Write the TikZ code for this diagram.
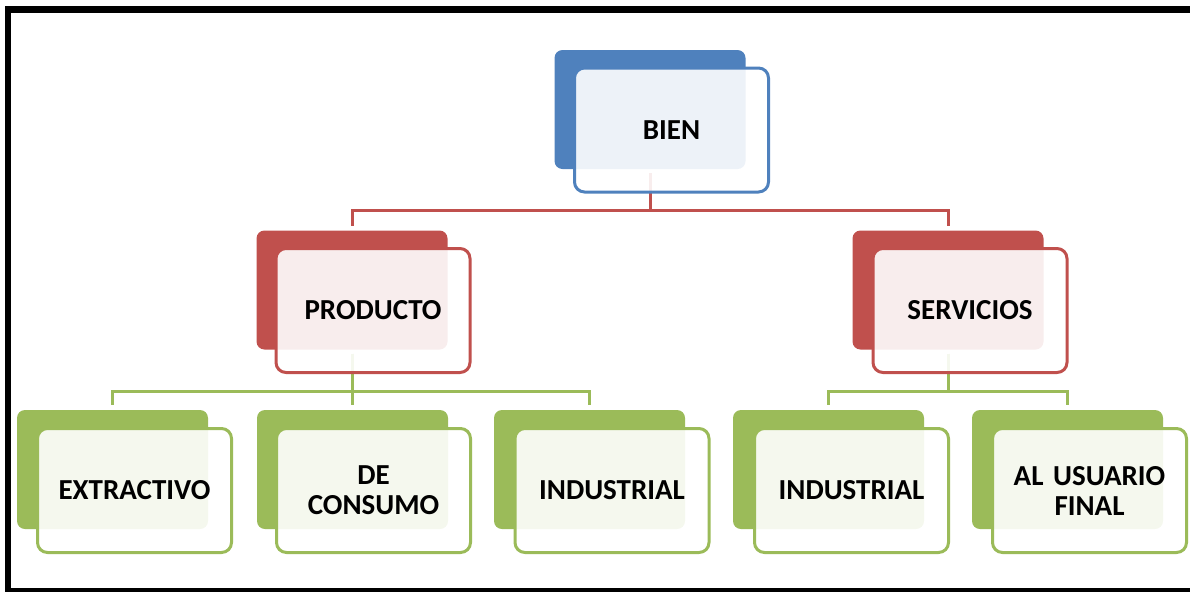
\documentclass[tikz,border=0pt]{standalone}
\usepackage{fontspec}
\setmainfont{Carlito}
\definecolor{bblue}{HTML}{4F81BD}
\definecolor{bred}{HTML}{C0504D}
\definecolor{bgreen}{HTML}{9BBB59}
\begin{document}
\begin{tikzpicture}[x=1pt,y=-1pt,
  backbox/.style={rectangle, rounded corners=8pt, minimum width=191pt, minimum height=119pt, inner sep=0pt, outer sep=0pt, fill=#1},
  frontbox/.style={rectangle, rounded corners=10pt, minimum width=194pt, minimum height=124pt, inner sep=0pt, outer sep=0pt, draw=#1, line width=3pt, fill=white, fill opacity=0.9, text opacity=1, font=\fontsize{29}{30}\selectfont\bfseries, align=center, text width=185pt},
  link/.style={line width=3pt, draw=#1, shorten <=4pt, shorten >=5pt}]
\useasboundingbox (0,0) rectangle (1190,592);
% frame
\draw[line width=6pt] (8,6) -- (8,592);
\draw[line width=7pt] (5,9.5) -- (1190,9.5);
\draw[line width=4pt] (5,590) -- (1190,590);
% back boxes
\node[backbox=bblue] (bienb) at (650,109.5) {};
\node[backbox=bred] (prodb) at (352,290) {};
\node[backbox=bred] (servb) at (948,290) {};
\node[backbox=bgreen] (extb) at (112.5,469.5) {};
\node[backbox=bgreen] (consb) at (352.5,469.5) {};
\node[backbox=bgreen] (ind1b) at (589.5,469.5) {};
\node[backbox=bgreen] (ind2b) at (828.5,469.5) {};
\node[backbox=bgreen] (usub) at (1067.5,469.5) {};
% connectors
\draw[link=bred] (bienb.south) -- ++(0,41) -| (prodb.north);
\draw[link=bred] (bienb.south) -- ++(0,41) -| (servb.north);
\draw[link=bgreen] (prodb.south) -- ++(0,42) -| (extb.north);
\draw[link=bgreen] (prodb.south) -- ++(0,42) -| (consb.north);
\draw[link=bgreen] (prodb.south) -- ++(0,42) -| (ind1b.north);
\draw[link=bgreen] (servb.south) -- ++(0,42) -| (ind2b.north);
\draw[link=bgreen] (servb.south) -- ++(0,42) -| (usub.north);
% front boxes
\node[frontbox=bblue] (bien) at (671.5,130) {BIEN};
\node[frontbox=bred] (prod) at (373,310.5) {PRODUCTO};
\node[frontbox=bred] (serv) at (970,310.5) {SERVICIOS};
\node[frontbox=bgreen] (ext) at (134.5,490.5) {EXTRACTIVO};
\node[frontbox=bgreen] (cons) at (373.5,490.5) {DE\\CONSUMO};
\node[frontbox=bgreen] (ind1) at (612,490.5) {INDUSTRIAL};
\node[frontbox=bgreen] (ind2) at (851.5,490.5) {INDUSTRIAL};
\node[frontbox=bgreen] (usu) at (1089.5,490.5) {AL USUARIO\\FINAL};
\end{tikzpicture}
\end{document}
